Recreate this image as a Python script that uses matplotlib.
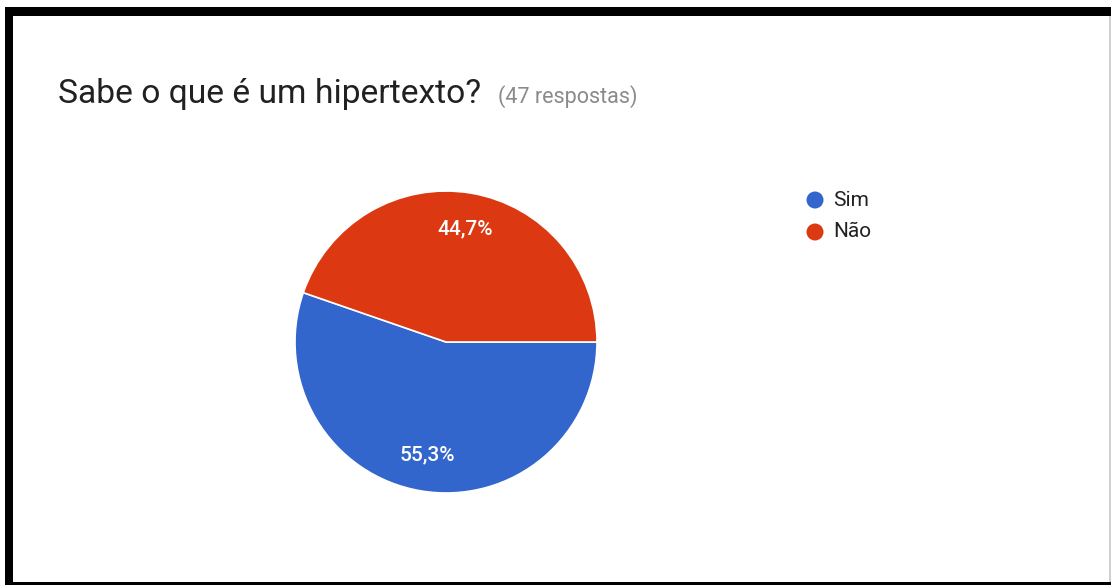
import matplotlib
matplotlib.use('Agg')
import matplotlib.pyplot as plt
from matplotlib.patches import Rectangle, Circle
from matplotlib.transforms import IdentityTransform

# Survey answers
labels = ['Sim', 'Não']
shares = [55.3, 44.7]
colors = ['#3366cc', '#dc3912']
title = 'Sabe o que é um hipertexto?'
subtitle = '(47 respostas)'

W, H = 1111, 585
plt.rcParams['font.family'] = ['Roboto', 'DejaVu Sans']

fig = plt.figure(figsize=(W / 100, H / 100), dpi=100)
fig.patch.set_facecolor('white')


def fx(px):
    return px / W


def fy(py):
    return 1 - py / H


# frame around the card
for (x0, y0, w, h, c) in [(5, 7, 1106, 9, 'black'),
                           (5, 7, 8, 578, 'black'),
                           (5, 582, 1106, 3, 'black'),
                           (1109, 16, 2, 566, '#d0d0d0')]:
    fig.add_artist(Rectangle((fx(x0), fy(y0 + h)), w / W, h / H,
                             transform=fig.transFigure, color=c, lw=0))

fig.text(fx(58), fy(103), title, fontsize=24.2, color='#212121', va='baseline')
fig.text(fx(498), fy(103), subtitle, fontsize=15.5, color='#8a8a8a', va='baseline')

# pie
cx, cy, r = 446, 342, 151
ax = fig.add_axes([fx(cx - r), fy(cy + r), 2 * r / W, 2 * r / H])
wedges, texts, autotexts = ax.pie(
    shares, colors=colors, startangle=0, counterclock=False,
    autopct=lambda p: f'{p:.1f}%'.replace('.', ','), pctdistance=0.76,
    wedgeprops=dict(edgecolor='white', linewidth=1.2),
    textprops=dict(color='white', fontsize=15, fontweight='medium'))
ax.set_xlim(-1, 1)
ax.set_ylim(-1, 1)
ax.axis('off')

# legend
for i, (lab, col) in enumerate(zip(labels, colors)):
    y = 200 + 32 * i
    fig.add_artist(Circle((815, H - y), 8.5, transform=IdentityTransform(),
                          color=col, lw=0))
    fig.text(fx(833), fy(y), lab, fontsize=15, color='#222222', va='center')

fig.savefig('out.png', dpi=100)
